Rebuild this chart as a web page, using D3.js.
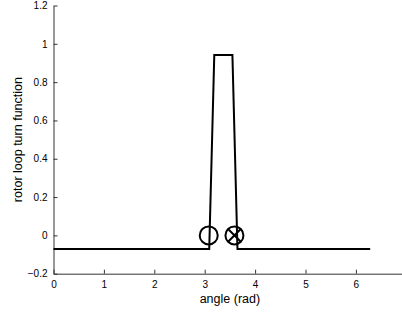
<!DOCTYPE html>
<html>
<head>
<meta charset="utf-8">
<script src="https://cdn.jsdelivr.net/npm/d3@7"></script>
<style>
  body { margin: 0; background: #fff; }
  svg { display: block; font-family: "Liberation Sans", Arial, sans-serif; }
</style>
</head>
<body>
<div id="chart"></div>
<script>
// turn function of one rotor loop vs angle
const angle = [0, 3.09, 3.19, 3.55, 3.65, 6.2832];
const turns = [-0.071, -0.071, 0.941, 0.941, -0.071, -0.071];

// conductor markers: plain circle (out) and crossed circle (in)
const coilAngle = [3.08, 3.59];
const coilValue = [0, 0];
const coilType = ["out", "in"];

const xTicks = [0, 1, 2, 3, 4, 5, 6];
const yTicks = [-0.2, 0, 0.2, 0.4, 0.6, 0.8, 1, 1.2];

const width = 402, height = 313;
const margin = {top: 5.5, left: 53.5, bottom: 39.3};

let svg = d3.select("#chart")
    .append("svg")
    .attr("width", width)
    .attr("height", height);

let x = d3.scaleLinear().domain([0, 7]).range([margin.left, margin.left + 7 * 50.4]);
let y = d3.scaleLinear().domain([-0.2, 1.2]).range([height - margin.bottom, margin.top]);

// x axis, ticks pointing inward like matlab
svg.append("g")
    .attr("transform", `translate(0, ${y(-0.2)})`)
    .call(d3.axisBottom(x).tickValues(xTicks).tickSizeInner(-4).tickSizeOuter(0).tickPadding(7)
        .tickFormat(d3.format("d")));

svg.append("g")
    .attr("transform", `translate(${x(0)}, 0)`)
    .call(d3.axisLeft(y).tickValues(yTicks).tickSizeInner(-4).tickSizeOuter(0).tickPadding(6)
        .tickFormat(d => d === 0 ? "0" : d3.format(".1~f")(d).replace("-", "\u2212")));

svg.selectAll(".domain, .tick line").attr("stroke", "#333").attr("stroke-width", 1);
svg.selectAll(".tick text").attr("fill", "#000").style("font-size", "10px");

// axis labels
svg.append("text")
    .attr("x", x(3.5))
    .attr("y", 302.5)
    .style("text-anchor", "middle")
    .style("font-size", "12.5px")
    .text("angle (rad)");

svg.append("text")
    .attr("transform", `translate(21.5, ${(y(-0.2) + y(1.2)) / 2}) rotate(-90)`)
    .style("text-anchor", "middle")
    .style("font-size", "12.5px")
    .text("rotor loop turn function");

// the turn function line
let line = d3.line().x(d => x(d[0])).y(d => y(d[1]));
svg.append("path")
    .datum(d3.zip(angle, turns))
    .attr("d", line)
    .attr("fill", "none")
    .attr("stroke", "#000")
    .attr("stroke-width", 2)
    .attr("stroke-linejoin", "miter");

// conductor markers
const r = 9;
let coils = svg.selectAll(".coil")
    .data(d3.zip(coilAngle, coilValue, coilType))
    .enter()
    .append("g")
    .attr("class", "coil")
    .attr("transform", d => `translate(${x(d[0])}, ${y(d[1])})`);

coils.append("circle")
    .attr("r", r)
    .attr("fill", "none")
    .attr("stroke", "#000")
    .attr("stroke-width", 2);

coils.filter(d => d[2] === "in")
    .append("path")
    .attr("d", () => {
        let k = r * Math.SQRT1_2;
        return `M${-k},${-k}L${k},${k}M${-k},${k}L${k},${-k}`;
    })
    .attr("stroke", "#000")
    .attr("stroke-width", 2);
</script>
</body>
</html>
